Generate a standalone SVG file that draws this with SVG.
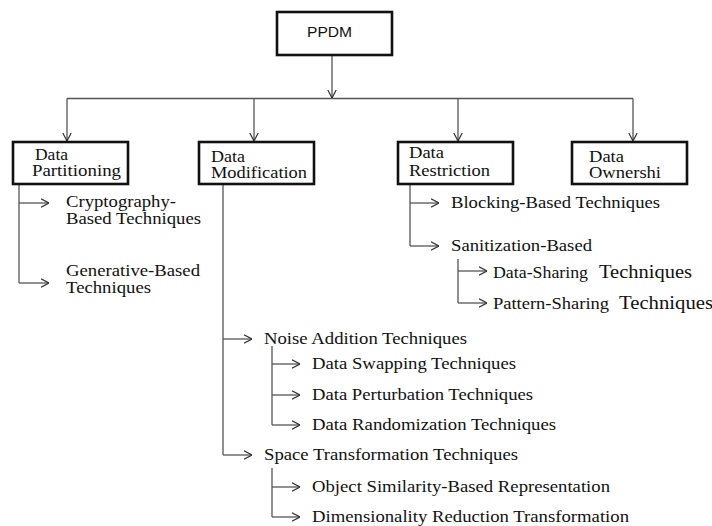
<svg xmlns="http://www.w3.org/2000/svg" width="712" height="526" viewBox="0 0 712 526">
  <defs>
    <marker id="arrow" viewBox="0 0 8 10" refX="8" refY="5" markerWidth="8" markerHeight="10" markerUnits="userSpaceOnUse" orient="auto">
      <path d="M0,0.8 L8,5 L0,9.2" fill="none" stroke="#333" stroke-width="1.2"/>
    </marker>
  </defs>
  <style>
    .box { fill: #fff; stroke: #111; stroke-width: 2.6; }
    .link { fill: none; stroke: #555; stroke-width: 1.3; }
    .arr { fill: none; stroke: #555; stroke-width: 1.3; marker-end: url(#arrow); }
    .t { font-family: "Liberation Serif", "Times New Roman", serif; font-size: 16px; fill: #111; }
    .bt { font-family: "Liberation Serif", "Times New Roman", serif; font-size: 16px; fill: #111; }
    .big { font-size: 18px; }
    .root { font-family: "Liberation Sans", Arial, sans-serif; font-size: 14px; fill: #111; }
  </style>
  <rect width="712" height="526" fill="#fff"/>

  <!-- connectors -->
  <g id="connectors">
    <path class="arr" d="M332,55 V98"/>
    <path class="link" d="M67,98.5 H633"/>
    <path class="arr" d="M67,98.5 V141"/>
    <path class="arr" d="M254,98.5 V141"/>
    <path class="arr" d="M458,98.5 V141"/>
    <path class="arr" d="M633,98.5 V141"/>

    <!-- Data Partitioning branch -->
    <path class="link" d="M19,184 V283"/>
    <path class="arr" d="M19,203 H49"/>
    <path class="arr" d="M19,283 H49"/>

    <!-- Data Restriction branch -->
    <path class="link" d="M410,184 V246"/>
    <path class="arr" d="M410,203 H439"/>
    <path class="arr" d="M410,246 H439"/>
    <path class="link" d="M458,259 V303"/>
    <path class="arr" d="M458,271 H487"/>
    <path class="arr" d="M458,303 H487"/>

    <!-- Data Modification branch -->
    <path class="link" d="M223,184 V455"/>
    <path class="arr" d="M223,339 H252"/>
    <path class="arr" d="M223,455 H252"/>
    <path class="link" d="M272,346 V425"/>
    <path class="arr" d="M272,364 H300"/>
    <path class="arr" d="M272,395 H300"/>
    <path class="arr" d="M272,425 H300"/>
    <path class="link" d="M272,468 V517"/>
    <path class="arr" d="M272,487 H300"/>
    <path class="arr" d="M272,517 H300"/>
  </g>

  <!-- root -->
  <g id="ppdm">
    <rect class="box" x="277" y="12" width="115" height="43"/>
    <text class="root" x="307" y="37" textLength="45" lengthAdjust="spacingAndGlyphs">PPDM</text>
  </g>

  <!-- second level -->
  <g id="data-partitioning">
    <rect class="box" x="13" y="142" width="115" height="42"/>
    <text class="bt" x="35" y="160" textLength="33" lengthAdjust="spacingAndGlyphs">Data</text>
    <text class="bt" x="32" y="176" textLength="89" lengthAdjust="spacingAndGlyphs">Partitioning</text>
  </g>
  <g id="data-modification">
    <rect class="box" x="199" y="142" width="115" height="42"/>
    <text class="bt" x="211" y="162" textLength="34" lengthAdjust="spacingAndGlyphs">Data</text>
    <text class="bt" x="211" y="178" textLength="96" lengthAdjust="spacingAndGlyphs">Modification</text>
  </g>
  <g id="data-restriction">
    <rect class="box" x="398" y="142" width="115" height="42"/>
    <text class="bt" x="409" y="158" textLength="35" lengthAdjust="spacingAndGlyphs">Data</text>
    <text class="bt" x="409" y="176" textLength="81" lengthAdjust="spacingAndGlyphs">Restriction</text>
  </g>
  <g id="data-ownership">
    <rect class="box" x="572" y="142" width="115" height="42"/>
    <text class="bt" x="589" y="162" textLength="35" lengthAdjust="spacingAndGlyphs">Data</text>
    <text class="bt" x="589" y="178" textLength="72" lengthAdjust="spacingAndGlyphs">Ownershi</text>
  </g>

  <!-- partitioning leaves -->
  <g id="cryptography-based">
    <text class="t" x="66" y="207" textLength="110" lengthAdjust="spacingAndGlyphs">Cryptography-</text>
    <text class="t" x="66" y="224" textLength="135" lengthAdjust="spacingAndGlyphs">Based Techniques</text>
  </g>
  <g id="generative-based">
    <text class="t" x="66" y="276" textLength="134" lengthAdjust="spacingAndGlyphs">Generative-Based</text>
    <text class="t" x="66" y="293" textLength="85" lengthAdjust="spacingAndGlyphs">Techniques</text>
  </g>

  <!-- restriction leaves -->
  <g id="blocking-based">
    <text class="t" x="451" y="208" textLength="209" lengthAdjust="spacingAndGlyphs">Blocking-Based Techniques</text>
  </g>
  <g id="sanitization-based">
    <text class="t" x="451" y="251" textLength="141" lengthAdjust="spacingAndGlyphs">Sanitization-Based</text>
  </g>
  <g id="data-sharing">
    <text class="t" y="278"><tspan x="493" textLength="95" lengthAdjust="spacingAndGlyphs">Data-Sharing</tspan><tspan class="big" x="599" textLength="93" lengthAdjust="spacingAndGlyphs">Techniques</tspan></text>
  </g>
  <g id="pattern-sharing">
    <text class="t" y="309"><tspan x="493" textLength="116" lengthAdjust="spacingAndGlyphs">Pattern-Sharing</tspan><tspan class="big" x="619" textLength="94" lengthAdjust="spacingAndGlyphs">Techniques</tspan></text>
  </g>

  <!-- modification leaves -->
  <g id="noise-addition">
    <text class="t" x="264" y="344" textLength="203" lengthAdjust="spacingAndGlyphs">Noise Addition Techniques</text>
  </g>
  <g id="data-swapping">
    <text class="t" x="312" y="369" textLength="204" lengthAdjust="spacingAndGlyphs">Data Swapping Techniques</text>
  </g>
  <g id="data-perturbation">
    <text class="t" x="312" y="400" textLength="221" lengthAdjust="spacingAndGlyphs">Data Perturbation Techniques</text>
  </g>
  <g id="data-randomization">
    <text class="t" x="312" y="430" textLength="244" lengthAdjust="spacingAndGlyphs">Data Randomization Techniques</text>
  </g>
  <g id="space-transformation">
    <text class="t" x="264" y="460" textLength="254" lengthAdjust="spacingAndGlyphs">Space Transformation Techniques</text>
  </g>
  <g id="object-similarity">
    <text class="t" x="312" y="492" textLength="298" lengthAdjust="spacingAndGlyphs">Object Similarity-Based Representation</text>
  </g>
  <g id="dimensionality-reduction">
    <text class="t" x="312" y="522" textLength="317" lengthAdjust="spacingAndGlyphs">Dimensionality Reduction Transformation</text>
  </g>
</svg>
